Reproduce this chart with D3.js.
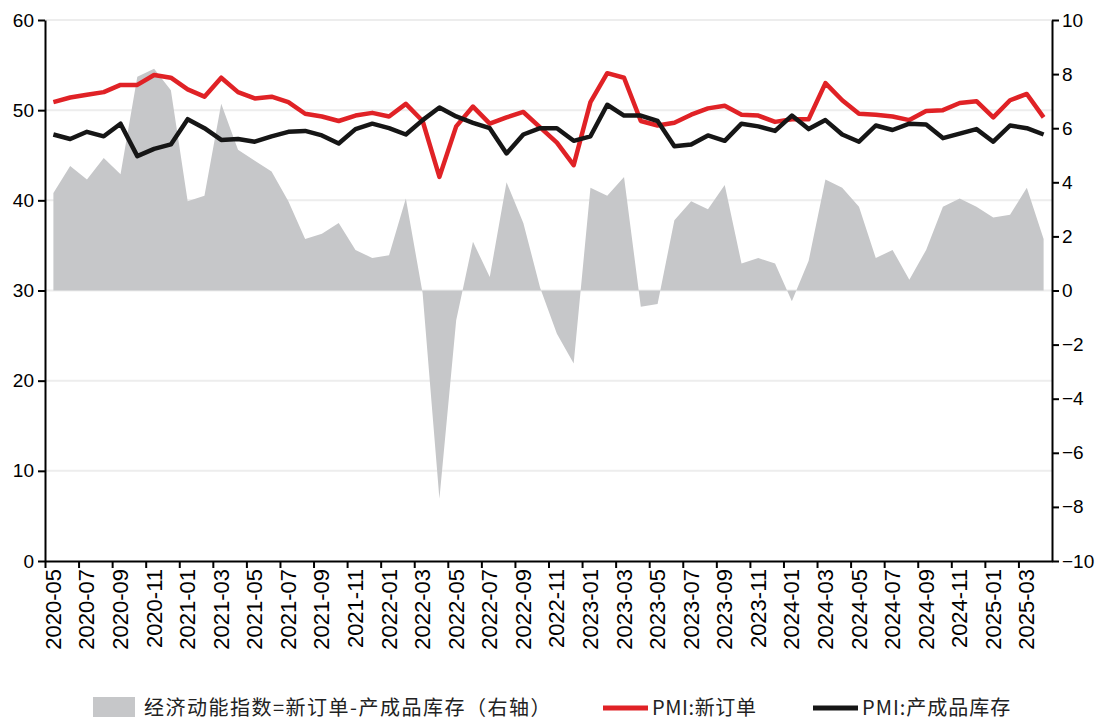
<!DOCTYPE html>
<html>
<head>
<meta charset="utf-8">
<script src="https://cdn.jsdelivr.net/npm/d3@7"></script>
<style>
  body { margin: 0; background: #fff; }
  svg { display: block; }
</style>
</head>
<body>
<div id="chart"></div>
<script>
const months = [
  "2020-05","2020-06","2020-07","2020-08","2020-09","2020-10","2020-11","2020-12",
  "2021-01","2021-02","2021-03","2021-04","2021-05","2021-06","2021-07","2021-08","2021-09","2021-10","2021-11","2021-12",
  "2022-01","2022-02","2022-03","2022-04","2022-05","2022-06","2022-07","2022-08","2022-09","2022-10","2022-11","2022-12",
  "2023-01","2023-02","2023-03","2023-04","2023-05","2023-06","2023-07","2023-08","2023-09","2023-10","2023-11","2023-12",
  "2024-01","2024-02","2024-03","2024-04","2024-05","2024-06","2024-07","2024-08","2024-09","2024-10","2024-11","2024-12",
  "2025-01","2025-02","2025-03","2025-04"
];

// PMI:新订单
const newOrders = [
  50.9, 51.4, 51.7, 52.0, 52.8, 52.8, 53.9, 53.6,
  52.3, 51.5, 53.6, 52.0, 51.3, 51.5, 50.9, 49.6, 49.3, 48.8, 49.4, 49.7,
  49.3, 50.7, 48.8, 42.6, 48.2, 50.4, 48.5, 49.2, 49.8, 48.1, 46.4, 43.9,
  50.9, 54.1, 53.6, 48.8, 48.3, 48.6, 49.5, 50.2, 50.5, 49.5, 49.4, 48.7,
  49.0, 49.0, 53.0, 51.1, 49.6, 49.5, 49.3, 48.9, 49.9, 50.0, 50.8, 51.0,
  49.2, 51.1, 51.8, 49.2
];

// PMI:产成品库存
const inventory = [
  47.3, 46.8, 47.6, 47.1, 48.5, 44.9, 45.7, 46.2,
  49.0, 48.0, 46.7, 46.8, 46.5, 47.1, 47.6, 47.7, 47.2, 46.3, 47.9, 48.5,
  48.0, 47.3, 48.9, 50.3, 49.3, 48.6, 48.0, 45.2, 47.3, 48.0, 48.0, 46.6,
  47.1, 50.6, 49.4, 49.4, 48.8, 46.0, 46.2, 47.2, 46.6, 48.5, 48.2, 47.7,
  49.4, 47.9, 48.9, 47.3, 46.5, 48.3, 47.8, 48.5, 48.4, 46.9, 47.4, 47.9,
  46.5, 48.3, 48.0, 47.3
];

// 经济动能指数 (右轴)
const momentum = [
  3.6, 4.6, 4.1, 4.9, 4.3, 7.9, 8.2, 7.4,
  3.3, 3.5, 6.9, 5.2, 4.8, 4.4, 3.3, 1.9, 2.1, 2.5, 1.5, 1.2,
  1.3, 3.4, -0.1, -7.7, -1.1, 1.8, 0.5, 4.0, 2.5, 0.1, -1.6, -2.7,
  3.8, 3.5, 4.2, -0.6, -0.5, 2.6, 3.3, 3.0, 3.9, 1.0, 1.2, 1.0,
  -0.4, 1.1, 4.1, 3.8, 3.1, 1.2, 1.5, 0.4, 1.5, 3.1, 3.4, 3.1,
  2.7, 2.8, 3.8, 1.9
];

const leftTicks = [0, 10, 20, 30, 40, 50, 60];
const rightTicks = [-10, -8, -6, -4, -2, 0, 2, 4, 6, 8, 10];

const width = 1096;
const height = 720;
const margin = { top: 20, right: 44, bottom: 159, left: 45 };
const plotRight = width - margin.right;
const plotBottom = height - margin.bottom;

const svg = d3.select("#chart")
  .append("svg")
  .attr("width", width)
  .attr("height", height);

const x = d3.scaleLinear()
  .domain([0, months.length])
  .range([margin.left, plotRight]);
const cx = i => x(i + 0.5);

const yLeft = d3.scaleLinear().domain([0, 60]).range([plotBottom, margin.top]);
const yRight = d3.scaleLinear().domain([-10, 10]).range([plotBottom, margin.top]);

// grid lines
svg.append("g")
  .selectAll("line")
  .data(leftTicks.slice(1))
  .join("line")
  .attr("x1", margin.left)
  .attr("x2", plotRight)
  .attr("y1", d => yLeft(d))
  .attr("y2", d => yLeft(d))
  .attr("stroke", "#ededed")
  .attr("stroke-width", 2);

// area on right axis
const area = d3.area()
  .x((d, i) => cx(i))
  .y0(yRight(0))
  .y1(d => yRight(d));

svg.append("path")
  .datum(momentum)
  .attr("d", area)
  .attr("fill", "#c6c7c9");

const line = d3.line()
  .x((d, i) => cx(i))
  .y(d => yLeft(d));

svg.append("path")
  .datum(newOrders)
  .attr("d", line)
  .attr("fill", "none")
  .attr("stroke", "#e02226")
  .attr("stroke-width", 4.5)
  .attr("stroke-linejoin", "round");

svg.append("path")
  .datum(inventory)
  .attr("d", line)
  .attr("fill", "none")
  .attr("stroke", "#161616")
  .attr("stroke-width", 4.5)
  .attr("stroke-linejoin", "round");

// axes
const styleAxis = g => {
  g.selectAll(".domain").attr("stroke", "#000").attr("stroke-width", 2);
  g.selectAll(".tick line").attr("stroke", "#000").attr("stroke-width", 2);
  g.selectAll("text")
    .attr("fill", "#000")
    .style("font-family", "'Liberation Sans', Arial, sans-serif");
};

svg.append("g")
  .attr("transform", `translate(${margin.left},0)`)
  .call(d3.axisLeft(yLeft).tickValues(leftTicks).tickSize(7).tickSizeOuter(0).tickPadding(4))
  .call(styleAxis)
  .selectAll("text").style("font-size", "19px");

svg.append("g")
  .attr("transform", `translate(${plotRight},0)`)
  .call(d3.axisRight(yRight).tickValues(rightTicks).tickSize(7).tickSizeOuter(0).tickPadding(3))
  .call(styleAxis)
  .selectAll("text").style("font-size", "19px");

const xAxis = svg.append("g")
  .attr("transform", `translate(0,${plotBottom})`)
  .call(d3.axisBottom(x)
    .tickValues(d3.range(0, months.length, 2))
    .tickFormat(i => months[i])
    .tickSize(7)
    .tickSizeOuter(0))
  .call(styleAxis);

xAxis.selectAll("text")
  .style("font-size", "22px")
  .attr("transform", "rotate(-90)")
  .attr("text-anchor", "end")
  .attr("x", -8)
  .attr("y", 0)
  .attr("dy", "0.7em");

// legend
const legend = svg.append("g")
  .style("font-family", "'Noto Sans CJK SC', sans-serif")
  .style("font-size", "20px")
  .attr("fill", "#222");

legend.append("rect")
  .attr("x", 93).attr("y", 697).attr("width", 42).attr("height", 20)
  .attr("fill", "#c6c7c9");
legend.append("text")
  .attr("x", 144).attr("y", 715)
  .style("letter-spacing", "1.5px")
  .text("经济动能指数=新订单-产成品库存（右轴）");

legend.append("line")
  .attr("x1", 603).attr("x2", 648).attr("y1", 708).attr("y2", 708)
  .attr("stroke", "#e02226").attr("stroke-width", 5);
legend.append("text")
  .attr("x", 652).attr("y", 715)
  .style("letter-spacing", "0.6px")
  .text("PMI:新订单");

legend.append("line")
  .attr("x1", 813).attr("x2", 858).attr("y1", 708).attr("y2", 708)
  .attr("stroke", "#161616").attr("stroke-width", 5);
legend.append("text")
  .attr("x", 862).attr("y", 715)
  .style("letter-spacing", "1px")
  .text("PMI:产成品库存");
</script>
</body>
</html>
